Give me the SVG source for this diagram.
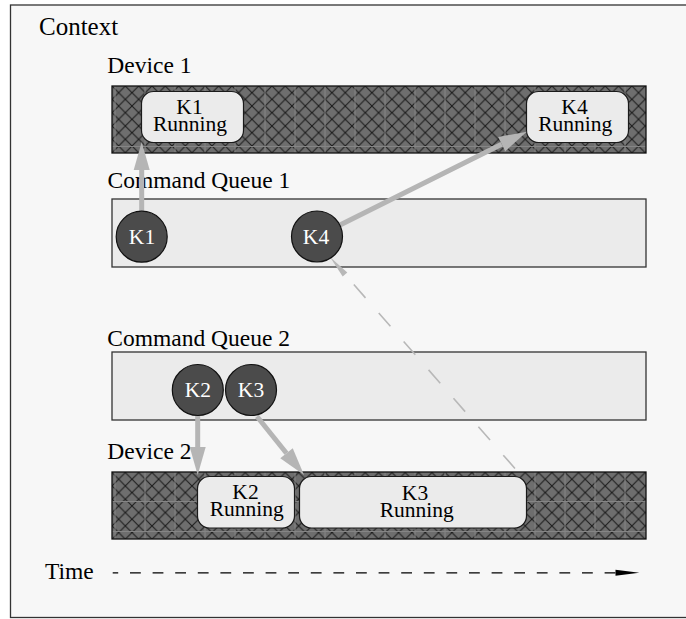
<svg xmlns="http://www.w3.org/2000/svg" width="686" height="619" viewBox="0 0 686 619">
<style>
  text { font-family: "Liberation Serif", "Times New Roman", serif; fill: #000; }
  .lbl { font-size: 23.5px; }
  .bt { font-size: 21.5px; text-anchor: middle; }
  .kt { font-size: 21.5px; text-anchor: middle; fill: #ffffff; }
  .q { fill: #ebebeb; stroke: #333333; stroke-width: 1.3; }
  .dev { fill: url(#hatch); }
  .devb { fill: none; stroke: #111111; stroke-width: 1.3; }
  .grid { fill: none; stroke: #858585; stroke-width: 1; }
  .box { fill: #ebebeb; stroke: #1a1a1a; stroke-width: 1.2; }
  .k { fill: #4b4b4b; stroke: #111111; stroke-width: 1.2; }
  .ga { fill: none; stroke: #b5b5b5; stroke-width: 5; marker-end: url(#gah); }
  .dash { fill: none; stroke: #b8b8b8; stroke-width: 1.6; stroke-dasharray: 17.7 20.1; stroke-dashoffset: 24.4; }
  .time { fill: none; stroke: #000000; stroke-width: 1.3; stroke-dasharray: 10.8 11.8; stroke-dashoffset: 5.3; }
</style>
<defs>
  <pattern id="hatch" patternUnits="userSpaceOnUse" x="112" y="86" width="13.33" height="13.33">
    <rect width="13.33" height="13.33" fill="#6e6e6e"/>
    <path d="M0,0 L13.33,13.33 M13.33,0 L0,13.33" stroke="#1c1c1c" stroke-width="1.1" fill="none"/>
  </pattern>
  <marker id="gah" markerUnits="userSpaceOnUse" markerWidth="28" markerHeight="16" viewBox="0 0 28 16" refX="0" refY="8" orient="auto" overflow="visible">
    <path d="M0,0 L28,8 L0,16 Z" fill="#b5b5b5"/>
  </marker>
</defs>

<g id="context">
  <rect x="0" y="0" width="686" height="619" fill="#ffffff"/>
  <rect x="10.5" y="5" width="700" height="612.5" fill="#f7f7f7" stroke="#333333" stroke-width="1.3"/>
  <text class="lbl" x="39" y="35" style="font-size:25px">Context</text>
</g>

<g id="device1">
  <text class="lbl" x="107.3" y="72.7">Device 1</text>
  <rect class="dev" x="112" y="86" width="534" height="67"/>
  <path class="grid" d="M115,86V153 M145,86V153 M175,86V153 M205,86V153 M235,86V153 M265,86V153 M295,86V153 M325,86V153 M355,86V153 M385,86V153 M415,86V153 M445,86V153 M475,86V153 M505,86V153 M535,86V153 M565,86V153 M595,86V153 M625,86V153 M112,146.5H646"/>
  <rect class="devb" x="112" y="86" width="534" height="67"/>
</g>

<g id="queue1">
  <text class="lbl" x="107.5" y="188.3">Command Queue 1</text>
  <rect class="q" x="112" y="199" width="534" height="68"/>
</g>

<g id="queue2">
  <text class="lbl" x="107.3" y="346">Command Queue 2</text>
  <rect class="q" x="112" y="352" width="534" height="68"/>
</g>

<g id="device2">
  <text class="lbl" x="107.3" y="459.3">Device 2</text>
  <rect class="dev" x="112" y="472" width="534" height="67"/>
  <path class="grid" d="M115,472V539 M145,472V539 M175,472V539 M205,472V539 M235,472V539 M265,472V539 M295,472V539 M325,472V539 M355,472V539 M385,472V539 M415,472V539 M445,472V539 M475,472V539 M505,472V539 M535,472V539 M565,472V539 M595,472V539 M625,472V539 M112,501.5H646 M112,531.5H646"/>
  <rect class="devb" x="112" y="472" width="534" height="67"/>
</g>

<g id="k1-running">
  <rect class="box" x="141.5" y="91.5" width="102" height="51" rx="12"/>
  <text class="bt" x="189.5" y="114">K1</text>
  <text class="bt" x="190" y="131">Running</text>
</g>

<g id="k4-running">
  <rect class="box" x="526.5" y="91.5" width="102" height="51" rx="12"/>
  <text class="bt" x="574.5" y="113.5">K4</text>
  <text class="bt" x="575.3" y="131">Running</text>
</g>

<g id="k2-running">
  <rect class="box" x="197.5" y="476.5" width="97" height="51.5" rx="12"/>
  <text class="bt" x="245.5" y="498.8">K2</text>
  <text class="bt" x="246.7" y="515.5">Running</text>
</g>

<g id="k3-running">
  <rect class="box" x="299.5" y="476.5" width="227" height="51.5" rx="12"/>
  <text class="bt" x="415" y="500">K3</text>
  <text class="bt" x="416.7" y="517">Running</text>
</g>

<g id="connectors">
  <line class="ga" x1="141.7" y1="211" x2="141.7" y2="170"/>
  <line class="ga" x1="340" y1="225" x2="501.7" y2="144.2"/>
  <line class="ga" x1="197.7" y1="416" x2="197.7" y2="447"/>
  <line class="ga" x1="257" y1="416.5" x2="286.5" y2="453.2"/>
  <line class="dash" x1="345" y1="274.5" x2="515" y2="468.5"/>
  <polygon points="330,257 347.3,272.5 342.7,276.5" fill="#b8b8b8"/>
  <line class="time" x1="112.7" y1="572.8" x2="616" y2="572.8"/>
  <polygon points="615.5,569.8 639.3,572.8 615.5,575.8" fill="#000000"/>
</g>

<g id="k1">
  <circle class="k" cx="141.7" cy="236.7" r="25.5"/>
  <text class="kt" x="142" y="244.2">K1</text>
</g>
<g id="k4">
  <circle class="k" cx="317" cy="236.5" r="25.5"/>
  <text class="kt" x="316" y="244">K4</text>
</g>
<g id="k2">
  <circle class="k" cx="197.8" cy="390" r="25.5"/>
  <text class="kt" x="197.8" y="397">K2</text>
</g>
<g id="k3">
  <circle class="k" cx="251" cy="390" r="25.5"/>
  <text class="kt" x="251" y="397">K3</text>
</g>

<g id="time">
  <text class="lbl" x="45" y="579.3">Time</text>
</g>
</svg>
